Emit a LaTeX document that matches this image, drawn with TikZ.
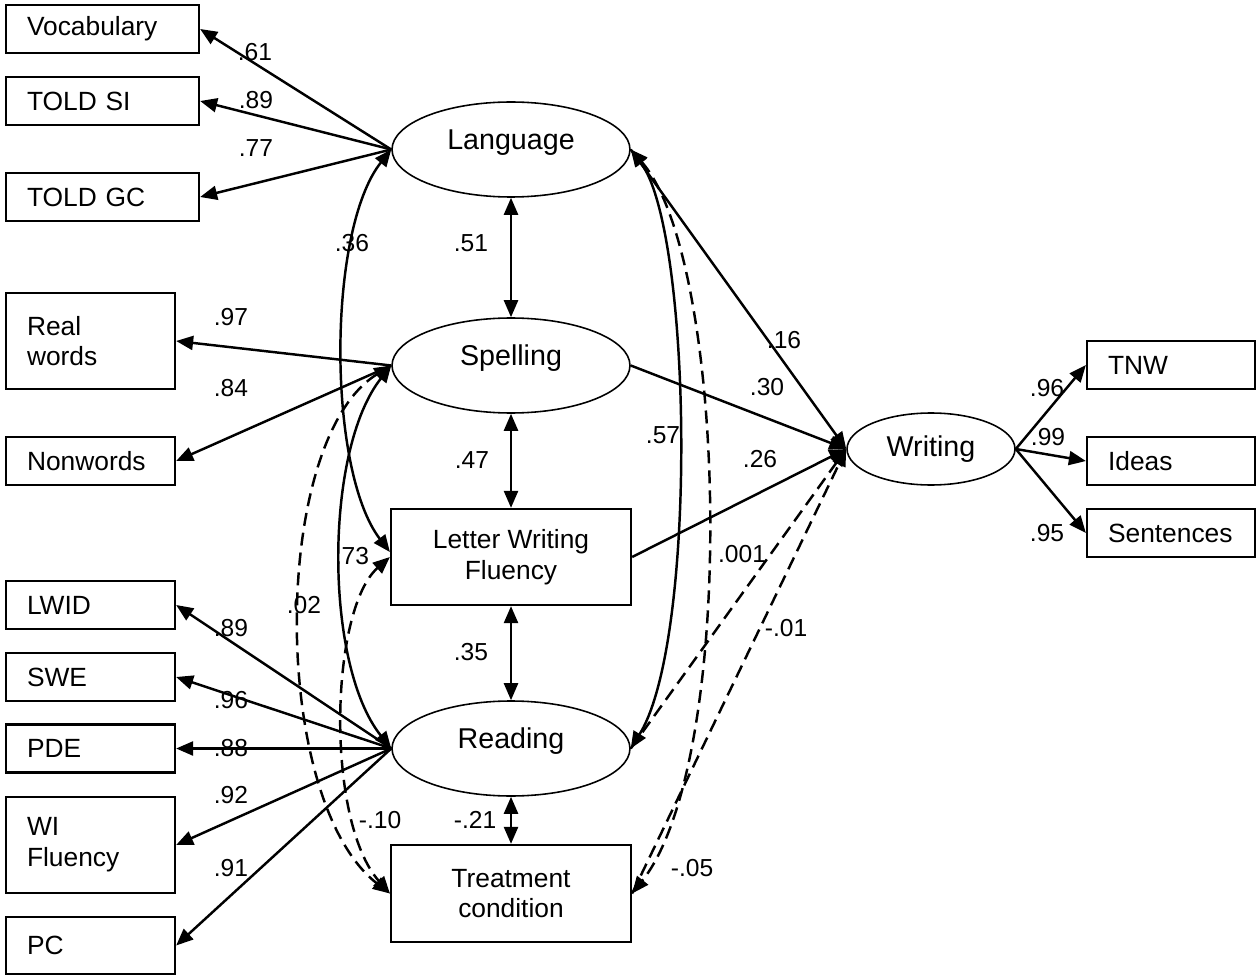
\documentclass[tikz,border=0pt]{standalone}
\usepackage{fontspec}
\setmainfont{Liberation Sans}
\usetikzlibrary{shapes.geometric,arrows.meta}

\begin{document}
\begin{tikzpicture}[x=0.02cm, y=-0.02cm,
		latent/.style={ellipse, draw, line width=0.9pt, inner sep=0pt, minimum width=4.76cm, minimum height=1.9cm, font=\fontsize{16.3}{19}\selectfont},
		factor/.style={latent, text height=12pt, text depth=12pt},
		obsbox/.style={rectangle, draw, line width=1.3pt, inner xsep=0.42cm, inner ysep=0pt, align=left, text width=2.54cm, minimum height=0.96cm, font=\fontsize{15}{17.5}\selectfont},
		midbox/.style={rectangle, draw, line width=1.3pt, align=center, minimum width=4.8cm, minimum height=1.92cm, font=\fontsize{15}{17.5}\selectfont},
		coef/.style={inner sep=0pt, font=\fontsize{14}{16}\selectfont},
		onehead/.style={line width=1.4pt, -{Triangle[length=0.34cm, width=0.28cm]}},
		twohead/.style={line width=1.4pt, {Triangle[length=0.34cm, width=0.28cm]}-{Triangle[length=0.34cm, width=0.28cm]}},
		dashline/.style={dash pattern=on 0.26cm off 0.14cm}]

		% frame of the picture
		\useasboundingbox (0,0) rectangle (1257,976);

		% factors and the two middle boxes
		\node[factor] (lang) at (511,149.5) {Language};
		\node[factor] (spell) at (511,365.5) {Spelling};
		\node[midbox] (lwf) at (511,557) {Letter Writing\\Fluency};
		\node[factor] (read) at (511,748.5) {Reading};
		\node[midbox, minimum height=1.94cm] (treat) at (511,893.5) {Treatment\\condition};
		\node[latent, minimum width=3.36cm, minimum height=1.44cm] (writ) at (931,449) {Writing};

		% indicators on the left
		\node[obsbox, text width=3.02cm] (vocab) at (102.5,29) {Vocabulary};
		\node[obsbox, text width=3.02cm] (toldsi) at (102.5,101) {TOLD SI};
		\node[obsbox, text width=3.02cm] (toldgc) at (102.5,197) {TOLD GC};
		\node[obsbox, minimum height=1.92cm] (realw) at (90.5,341) {Real\\words};
		\node[obsbox] (nonw) at (90.5,461) {Nonwords};
		\node[obsbox] (lwid) at (90.5,605) {LWID};
		\node[obsbox] (swe) at (90.5,677) {SWE};
		\node[obsbox] (pde) at (90.5,748.5) {PDE};
		\node[obsbox, minimum height=1.92cm] (wifl) at (90.5,845) {WI\\Fluency};
		\node[obsbox, minimum height=1.14cm] (pc) at (90.5,945.5) {PC};

		% indicators on the right
		\node[obsbox, text width=2.52cm] (tnw) at (1171,365) {TNW};
		\node[obsbox, text width=2.52cm] (ideas) at (1171,461) {Ideas};
		\node[obsbox, text width=2.52cm] (sent) at (1171,533) {Sentences};

		% loadings
		\foreach \ind in {vocab, toldsi, toldgc}
			\draw[onehead] (lang.west) -- (\ind.east);
		\foreach \ind in {realw, nonw}
			\draw[onehead] (spell.west) -- (\ind.east);
		\foreach \ind in {lwid, swe, pde, wifl, pc}
			\draw[onehead] (read.west) -- (\ind.east);
		\foreach \ind in {tnw, ideas, sent}
			\draw[onehead] (writ.east) -- (\ind.west);

		% correlations down the middle
		\draw[twohead] (lang) -- (spell);
		\draw[twohead] (spell) -- (lwf);
		\draw[twohead] (lwf) -- (read);
		\draw[twohead] (read) -- (treat);

		% curved correlations, left side
		\draw[twohead] (lang.west) .. controls (327,230) and (327,470) .. ([yshift=0.1cm]lwf.west);
		\draw[twohead] (spell.west) .. controls (324,450) and (324,665) .. (read.west);
		\draw[twohead, dashline] (spell.west) .. controls (270,440) and (270,800) .. (treat.west);
		\draw[twohead, dashline] (lwf.west) .. controls (330,610) and (325,820) .. (treat.west);

		% curved correlations, right side
		\draw[twohead] (lang.east) .. controls (692,230) and (698,640) .. (read.east);
		\draw[twohead, dashline] (lang.east) .. controls (728,260) and (738,760) .. (treat.east);

		% paths into writing
		\foreach \src in {lang.east, spell.east, lwf.east}
			\draw[onehead] (\src) -- (writ.west);
		\foreach \src in {read.east, treat.east}
			\draw[onehead, dashline] (\src) -- (writ.west);

		% coefficients
		\foreach \nm/\val/\px/\py in {
				kvocab/.61/255/52, ktoldsi/.89/256/100, ktoldgc/.77/256/148,
				krealw/.97/231/317, knonw/.84/231/388,
				klwid/.89/231/628, kswe/.96/231/700, kpde/.88/231/748, kwifl/.92/231/795, kpc/.91/231/868,
				ktnw/.96/1047/388, kideas/.99/1048/437, ksent/.95/1047/533,
				rlangspell/.51/471/243, rspelllwf/.47/472/460, rlwfread/.35/471/652, rreadtreat/-.21/475/820,
				rlanglwf/.36/352/243, rspellread/.73/352/556, rspelltreat/.02/304/605, rlwftreat/-.10/380/820,
				rlangread/.57/663/435, rlangtreat/-.05/692/868,
				blang/.16/784/340, bspell/.30/767/387, blwf/.26/760/459, bread/.001/742/554, btreat/-.01/786/628}
			\node[coef] (\nm) at (\px,\py) {\val};
	\end{tikzpicture}
\end{document}
